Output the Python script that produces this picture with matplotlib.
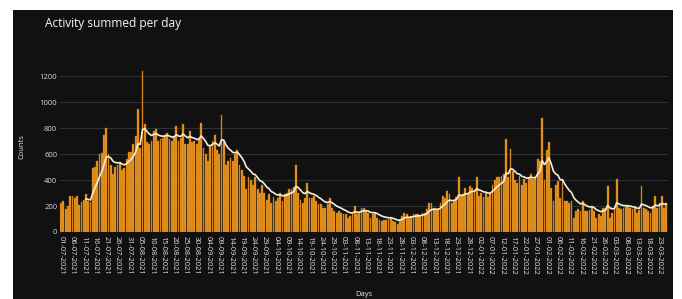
import pandas as pd
import numpy as np
import matplotlib
matplotlib.use('Agg')
import matplotlib.pyplot as plt
from matplotlib.patches import Rectangle

plt.rcParams['font.family'] = ['Open Sans', 'DejaVu Sans']

# daily counts (one list per month)
jul = [225, 240, 180, 200, 280, 280, 265, 275, 210, 230, 250, 295, 240, 230, 495, 500,
       545, 600, 610, 750, 800, 600, 520, 445, 500, 520, 540, 480, 495, 560, 620]
aug = [620, 680, 740, 945, 650, 1240, 830, 690, 675, 700, 780, 790, 700, 715, 725, 750,
       765, 715, 700, 740, 815, 700, 725, 830, 675, 675, 780, 690, 700, 675, 725]
sep = [840, 650, 600, 545, 660, 700, 750, 635, 600, 905, 700, 520, 545, 570, 545, 600,
       635, 520, 480, 430, 330, 420, 400, 360, 420, 330, 300, 360, 300, 250]
oct_ = [290, 220, 270, 240, 260, 300, 240, 290, 300, 330, 330, 350, 520, 300, 250, 220,
        265, 380, 260, 265, 275, 240, 215, 215, 185, 185, 215, 265, 185, 160, 150]
nov = [160, 150, 135, 135, 110, 125, 135, 200, 135, 150, 185, 185, 165, 150, 110, 140,
       150, 110, 95, 85, 95, 95, 100, 110, 85, 75, 60, 95, 120, 150]
dec = [135, 110, 125, 135, 135, 135, 125, 150, 150, 180, 225, 225, 185, 175, 175, 220,
       275, 265, 315, 290, 225, 250, 270, 425, 275, 290, 340, 290, 355, 340, 315]
jan = [420, 280, 300, 270, 300, 270, 300, 365, 400, 420, 420, 430, 445, 715, 420, 640,
       470, 400, 380, 430, 365, 405, 380, 420, 445, 405, 420, 560, 545, 880, 400]
feb = [635, 690, 340, 240, 365, 390, 265, 405, 240, 240, 225, 240, 110, 160, 175, 160,
       240, 160, 160, 170, 200, 160, 110, 135, 125, 185, 185, 355]
mar = [110, 150, 185, 405, 185, 175, 185, 200, 200, 185, 175, 185, 150, 170, 355, 185,
       175, 160, 150, 200, 280, 185, 225, 280, 185, 225]

counts = pd.Series(jul + aug + sep + oct_ + nov + dec + jan + feb + mar, dtype=float)
days = pd.date_range('2021-07-01', periods=len(counts), freq='D')
counts.index = days

# smoothed trend (original line only starts after ~12 days)
trend = counts.ewm(span=9, min_periods=12).mean()

fig = plt.figure(figsize=(6.82, 2.99), dpi=100, facecolor='white')
fig.patches.append(Rectangle((13 / 682, 0), 660 / 682, 289 / 299, transform=fig.transFigure,
                             facecolor='#111111', edgecolor='none', zorder=-10))

ax = fig.add_axes([60 / 682, 67 / 299, 607.5 / 682, 169 / 299])
ax.set_facecolor('#111111')

ax.bar(days, counts.values, width=0.8, color='#eb9823', edgecolor='#b86d12', linewidth=0.3, zorder=2)
ax.plot(days, trend.values, color='#f3ecd8', linewidth=1.2, zorder=3)

ax.set_xlim(days[0] - pd.Timedelta(hours=12), days[-1] + pd.Timedelta(hours=12))
ax.set_ylim(0, 1302)
ax.set_yticks(range(0, 1201, 200))
ax.yaxis.grid(True, color='#2d3236', linewidth=0.8, zorder=0)
ax.set_axisbelow(True)

ticks = days[::5]
ax.set_xticks(ticks)
ax.set_xticklabels([d.strftime('%d-%m-%Y') for d in ticks], rotation=-90, fontsize=5.3,
                   color='#e6e6e6', ha='center', va='top')
ax.tick_params(axis='y', labelsize=5.5, labelcolor='#d8d8d8', length=0, pad=2)
ax.tick_params(axis='x', length=0, pad=3)
for s in ax.spines.values():
    s.set_visible(False)

fig.text(45 / 682, 1 - 23 / 299, 'Activity summed per day', fontsize=8.6, color='#f2f5fa', va='center')
fig.text(22 / 682, 1 - 147 / 299, 'Counts', rotation=90, fontsize=5.5, color='#e6e6e6',
         va='center', ha='center')
fig.text(364 / 682, 1 - 295 / 299, 'Days', fontsize=5.5, color='#e6e6e6', va='center', ha='center')

fig.savefig('out.png', dpi=100, facecolor=fig.get_facecolor())
